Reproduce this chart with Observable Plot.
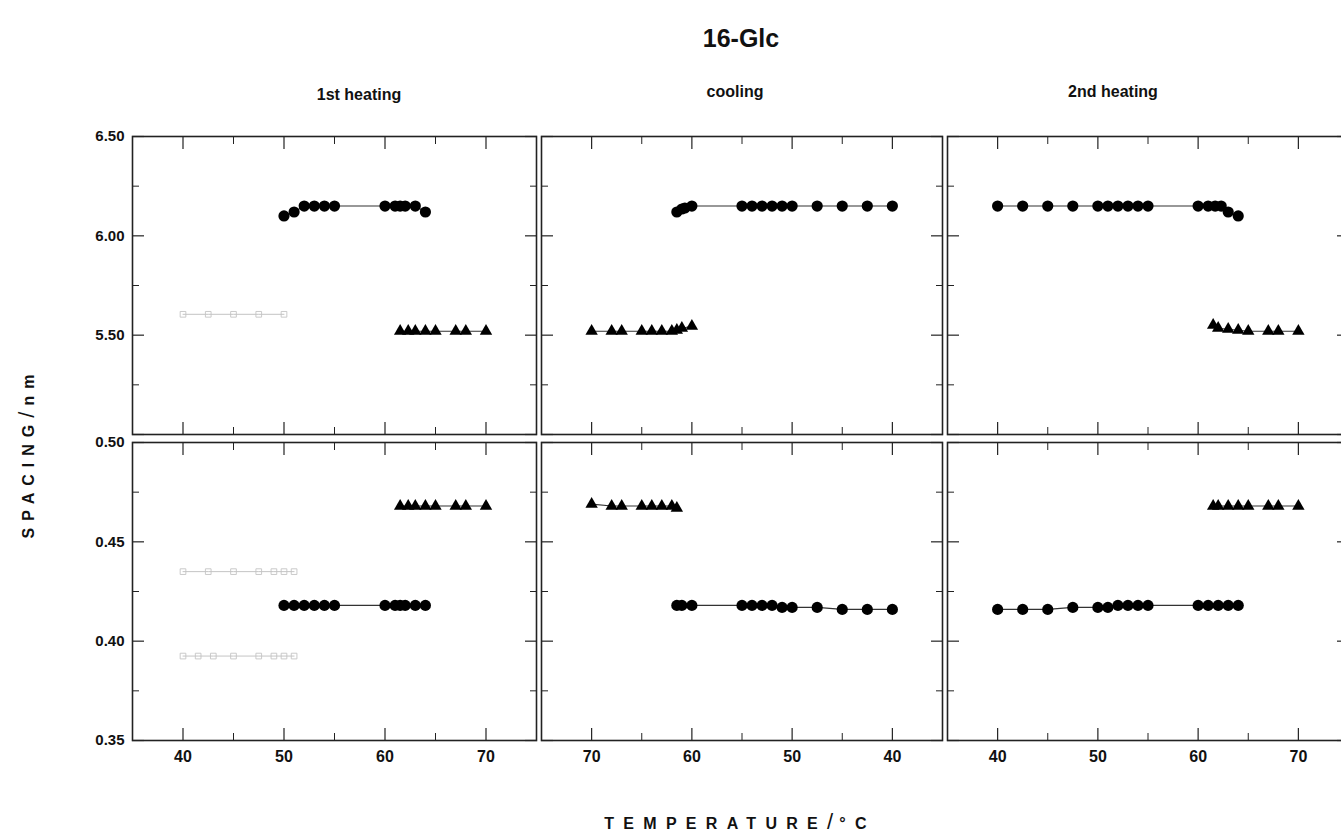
<!DOCTYPE html>
<html><head><meta charset="utf-8">
<script src="https://cdn.jsdelivr.net/npm/d3@7"></script>
<script src="https://cdn.jsdelivr.net/npm/@observablehq/plot@0.6"></script>
<style>
html,body{margin:0;padding:0;background:#fff;overflow:hidden;}
#wrap{position:relative;width:1341px;height:833px;overflow:hidden;font-family:"Liberation Sans",Arial,sans-serif;color:#111;}
.abs{position:absolute;white-space:nowrap;line-height:1;}
.ctr{transform:translateX(-50%);}
</style></head><body><div id="wrap"></div>
<script>
// ---------- data (temperature in °C, spacing in nm) ----------
const title = "16-Glc";
const columnTitles = ["1st heating", "cooling", "2nd heating"];
const xTickLabels = [40, 50, 60, 70];
const xMinorTicks = [45, 55, 65];
const topYLabels = [6.5, 6.0, 5.5];
const topYMajor = [6.5, 6.0, 5.5, 5.0];
const topYMinor = [6.25, 5.75, 5.25];
const botYLabels = [0.50, 0.45, 0.40, 0.35];
const botYMinor = [0.475, 0.425, 0.375];

// 1st heating - long spacing
const h1LongCircT = [50, 51, 52, 53, 54, 55, 60, 61, 61.5, 62, 63, 64];
const h1LongCircD = [6.10, 6.12, 6.15, 6.15, 6.15, 6.15, 6.15, 6.15, 6.15, 6.15, 6.15, 6.12];
const h1LongTriT = [61.5, 62.3, 63, 64, 65, 67, 68, 70];
const h1LongTriD = [5.52, 5.52, 5.52, 5.52, 5.52, 5.52, 5.52, 5.52];
const h1LongFaintT = [40, 42.5, 45, 47.5, 50];
const h1LongFaintD = [5.605, 5.605, 5.605, 5.605, 5.605];
// 1st heating - short spacing
const h1ShortCircT = [50, 51, 52, 53, 54, 55, 60, 61, 61.5, 62, 63, 64];
const h1ShortCircD = [0.418, 0.418, 0.418, 0.418, 0.418, 0.418, 0.418, 0.418, 0.418, 0.418, 0.418, 0.418];
const h1ShortTriT = [61.5, 62.3, 63, 64, 65, 67, 68, 70];
const h1ShortTriD = [0.468, 0.468, 0.468, 0.468, 0.468, 0.468, 0.468, 0.468];
const h1ShortFaintAT = [40, 42.5, 45, 47.5, 49, 50, 51];
const h1ShortFaintAD = [0.435, 0.435, 0.435, 0.435, 0.435, 0.435, 0.435];
const h1ShortFaintBT = [40, 41.5, 43, 45, 47.5, 49, 50, 51];
const h1ShortFaintBD = [0.3925, 0.3925, 0.3925, 0.3925, 0.3925, 0.3925, 0.3925, 0.3925];

// cooling - long spacing
const cLongCircT = [61.5, 61, 60.7, 60, 55, 54, 53, 52, 51, 50, 47.5, 45, 42.5, 40];
const cLongCircD = [6.12, 6.135, 6.14, 6.15, 6.15, 6.15, 6.15, 6.15, 6.15, 6.15, 6.15, 6.15, 6.15, 6.15];
const cLongTriT = [70, 68, 67, 65, 64, 63, 62, 61.5, 61, 60];
const cLongTriD = [5.52, 5.52, 5.52, 5.52, 5.52, 5.52, 5.52, 5.525, 5.535, 5.545];
// cooling - short spacing
const cShortCircT = [61.5, 61, 60, 55, 54, 53, 52, 51, 50, 47.5, 45, 42.5, 40];
const cShortCircD = [0.418, 0.418, 0.418, 0.418, 0.418, 0.418, 0.418, 0.417, 0.417, 0.417, 0.416, 0.416, 0.416];
const cShortTriT = [70, 68, 67, 65, 64, 63, 62, 61.5];
const cShortTriD = [0.469, 0.468, 0.468, 0.468, 0.468, 0.468, 0.468, 0.467];

// 2nd heating - long spacing
const h2LongCircT = [40, 42.5, 45, 47.5, 50, 51, 52, 53, 54, 55, 60, 61, 61.7, 62.3, 63, 64];
const h2LongCircD = [6.15, 6.15, 6.15, 6.15, 6.15, 6.15, 6.15, 6.15, 6.15, 6.15, 6.15, 6.15, 6.15, 6.15, 6.12, 6.10];
const h2LongTriT = [61.5, 62, 63, 64, 65, 67, 68, 70];
const h2LongTriD = [5.55, 5.535, 5.53, 5.525, 5.52, 5.52, 5.52, 5.52];
// 2nd heating - short spacing
const h2ShortCircT = [40, 42.5, 45, 47.5, 50, 51, 52, 53, 54, 55, 60, 61, 62, 63, 64];
const h2ShortCircD = [0.416, 0.416, 0.416, 0.417, 0.417, 0.417, 0.418, 0.418, 0.418, 0.418, 0.418, 0.418, 0.418, 0.418, 0.418];
const h2ShortTriT = [61.5, 62, 63, 64, 65, 67, 68, 70];
const h2ShortTriD = [0.468, 0.468, 0.468, 0.468, 0.468, 0.468, 0.468, 0.468];

// ---------- helpers ----------
const pts = (T, D) => T.map((t, i) => ({t, d: D[i]}));
const wrap = document.getElementById("wrap");

function addText(txt, x, y, css, center = true) {
  const el = document.createElement("div");
  el.className = "abs" + (center ? " ctr" : "");
  el.style.left = x + "px"; el.style.top = y + "px";
  Object.assign(el.style, css);
  el.innerHTML = txt;
  wrap.appendChild(el);
  return el;
}

const cols = [
  {L: 132, W: 404, domain: [35, 75]},
  {L: 541, W: 401, domain: [75, 35]},
  {L: 947, W: 401, domain: [35, 75]}
];
const rows = [
  {T: 136, H: 298, domain: [5.0, 6.5], yLabels: topYLabels, yMajor: topYMajor, yMinor: topYMinor},
  {T: 442, H: 298, domain: [0.35, 0.50], yLabels: botYLabels, yMajor: botYLabels, yMinor: botYMinor}
];

const ML = 64, MR = 4, MT = 4, MB = 36;
const lineStyle = {stroke: "#333", strokeWidth: 1.1};
const faint = "#c4c4c4";

function panel(ci, ri, circ, tri, faints = []) {
  const c = cols[ci], r = rows[ri];
  const marks = [
    Plot.frame({stroke: "#222", strokeWidth: 1.6}),
    // inward ticks, all four sides
    Plot.axisX(xTickLabels, {anchor: "bottom", tickSize: -12, tickFormat: () => "", label: null, stroke: "#222", strokeWidth: 1.2}),
    Plot.axisX(xMinorTicks, {anchor: "bottom", tickSize: -7, tickFormat: () => "", label: null, stroke: "#222"}),
    Plot.axisX(xTickLabels, {anchor: "top", tickSize: -12, tickFormat: () => "", label: null, stroke: "#222", strokeWidth: 1.2}),
    Plot.axisX(xMinorTicks, {anchor: "top", tickSize: -7, tickFormat: () => "", label: null, stroke: "#222"}),
    Plot.axisY(r.yMajor, {anchor: "left", tickSize: -12, tickFormat: () => "", label: null, stroke: "#222", strokeWidth: 1.2}),
    Plot.axisY(r.yMinor, {anchor: "left", tickSize: -7, tickFormat: () => "", label: null, stroke: "#222"}),
    Plot.axisY(r.yMajor, {anchor: "right", tickSize: -12, tickFormat: () => "", label: null, stroke: "#222", strokeWidth: 1.2}),
    Plot.axisY(r.yMinor, {anchor: "right", tickSize: -7, tickFormat: () => "", label: null, stroke: "#222"})
  ];
  if (ci === 0) {
    marks.push(Plot.axisY(r.yLabels, {anchor: "left", tickSize: 0, tickPadding: 8, tickFormat: d3.format(".2f"), label: null, fontSize: 15, fontWeight: "bold"}));
  }
  if (ri === 1) {
    marks.push(Plot.axisX(xTickLabels, {anchor: "bottom", tickSize: 0, tickPadding: 10, tickFormat: d => d, label: null, fontSize: 16, fontWeight: "bold"}));
  }
  for (const f of faints) {
    marks.push(Plot.line(f, {x: "t", y: "d", stroke: faint, strokeWidth: 1}));
    marks.push(Plot.dot(f, {x: "t", y: "d", symbol: "square", r: 3.2, stroke: faint, strokeWidth: 0.9, fill: "none"}));
  }
  marks.push(Plot.line(circ, {x: "t", y: "d", ...lineStyle}));
  marks.push(Plot.line(tri, {x: "t", y: "d", ...lineStyle}));
  marks.push(Plot.dot(circ, {x: "t", y: "d", symbol: "circle", r: 5.6, fill: "#000", stroke: "none"}));
  marks.push(Plot.dot(tri, {x: "t", y: "d", symbol: "triangle", r: 4.6, fill: "#000", stroke: "none"}));

  const svg = Plot.plot({
    width: c.W + ML + MR, height: r.H + MT + MB,
    marginLeft: ML, marginRight: MR, marginTop: MT, marginBottom: MB,
    x: {domain: c.domain, label: null},
    y: {domain: r.domain, label: null},
    style: {background: "transparent", overflow: "visible", fontFamily: "'Liberation Sans', Arial, sans-serif", color: "#111", maxWidth: "none"},
    marks
  });
  svg.style.position = "absolute";
  svg.style.left = (c.L - ML) + "px";
  svg.style.top = (r.T - MT) + "px";
  wrap.appendChild(svg);
}

panel(0, 0, pts(h1LongCircT, h1LongCircD), pts(h1LongTriT, h1LongTriD), [pts(h1LongFaintT, h1LongFaintD)]);
panel(0, 1, pts(h1ShortCircT, h1ShortCircD), pts(h1ShortTriT, h1ShortTriD), [pts(h1ShortFaintAT, h1ShortFaintAD), pts(h1ShortFaintBT, h1ShortFaintBD)]);
panel(1, 0, pts(cLongCircT, cLongCircD), pts(cLongTriT, cLongTriD));
panel(1, 1, pts(cShortCircT, cShortCircD), pts(cShortTriT, cShortTriD));
panel(2, 0, pts(h2LongCircT, h2LongCircD), pts(h2LongTriT, h2LongTriD));
panel(2, 1, pts(h2ShortCircT, h2ShortCircD), pts(h2ShortTriT, h2ShortTriD));

// ---------- titles and axis labels ----------
addText(title, 741, 26, {fontSize: "25px", fontWeight: "bold"});
addText(columnTitles[0], 359, 87, {fontSize: "16px", fontWeight: "bold"});
addText(columnTitles[1], 735, 84, {fontSize: "16px", fontWeight: "bold"});
addText(columnTitles[2], 1113, 84, {fontSize: "16px", fontWeight: "bold"});

addText("TEMPERATURE<span style='font-size:22px;font-weight:normal;letter-spacing:6px'>/</span>°C", 740, 811,
  {fontSize: "16px", fontWeight: "bold", letterSpacing: "9.3px"});

const yl = addText("SPACING<span style='font-size:22px;font-weight:normal;letter-spacing:6px'>/</span>nm", 0, 0,
  {fontSize: "16px", fontWeight: "bold", letterSpacing: "7px"}, false);
yl.style.left = "27px"; yl.style.top = "453px";
yl.style.transform = "translate(-50%,-50%) rotate(-90deg)";
</script>
</body></html>
